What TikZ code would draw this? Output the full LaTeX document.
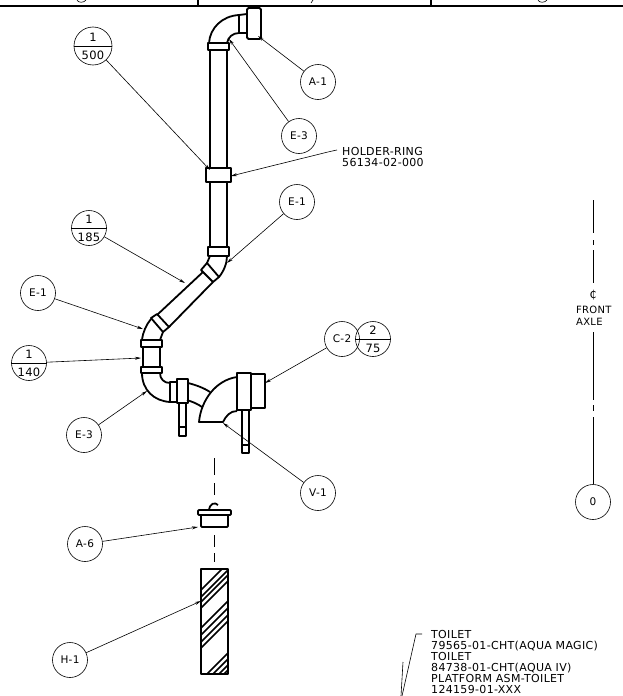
\documentclass[tikz,border=0pt]{standalone}
\usepackage{fontspec}
\newfontfamily\cadfont[LetterSpace=3]{DejaVu Sans}
\usetikzlibrary{arrows.meta}
\tikzset{
	ball/.style={circle, draw, line width=0.6pt, minimum size=35pt, inner sep=0pt, font=\cadfont\fontsize{10.5}{15}\selectfont, align=center},
	fracball/.style={ball, font=\cadfont\fontsize{11.5}{15}\selectfont},
	pipe/.style={line width=1.8pt, line join=round},
	leader/.style={line width=0.6pt, -{Stealth[length=6pt,width=3pt]}},
	note/.style={font=\cadfont\fontsize{11}{11}\selectfont, align=left, inner sep=0pt, anchor=west},
	center line/.style={line width=0.7pt},
}
\begin{document}
\begin{tikzpicture}[x=1pt, y=-1pt]
	\useasboundingbox (0,0) rectangle (623,696);
	% the title strip
	\draw[line width=1.8pt] (0,6) -- (623,6);
	\draw[line width=1.2pt] (198,0) -- (198,6) (431,0) -- (431,6);
	\draw[line width=0.6pt] (77,0) .. controls (78,3) and (84,3) .. (86,0);
	\draw[line width=0.6pt] (538,0) .. controls (539,3) and (545,3) .. (547,0);
	\draw[line width=0.6pt] (313,0) -- (311,3);
	% the upper pipe
	\draw[pipe, rounded corners=1.5pt] (247,8) rectangle (261,39);
	\draw[pipe] (247,14) -- (239,15) -- (239,33) -- (247,33);
	\draw[pipe] (239,15) .. controls (222,16) and (210,28) .. (209,43);
	\draw[pipe] (239,33) .. controls (233,33) and (228,37) .. (227,43);
	\draw[pipe] (208,43) rectangle (229,50);
	\draw[pipe] (210,50) -- (210,168) (227,50) -- (227,168);
	\draw[pipe] (206,168) rectangle (231,182);
	\draw[pipe] (210,182) -- (210,247) (227,182) -- (227,247);
	\draw[pipe] (208,247) rectangle (229,256);
	% the slanted pipe
	\draw[pipe] (210,256) -- (207,263);
	\draw[pipe] (227,256) .. controls (227,263) and (224,271) .. (219,277);
	\draw[pipe] (201,270) -- (207,263) -- (219,277) -- (213,282) -- cycle;
	\draw[pipe] (203,272) -- (157,315) (213,282) -- (169,327);
	\draw[pipe] (151,318) -- (157,314) -- (169,327) -- (163,332) -- cycle;
	\draw[pipe] (151,319) .. controls (146,325) and (143,332) .. (142,340);
	\draw[pipe] (163,332) -- (160,340);
	% the lower pipe
	\draw[pipe] (141,340) rectangle (162,347);
	\draw[pipe] (143,347) -- (143,367) (160,347) -- (160,367);
	\draw[pipe] (141,367) rectangle (162,373);
	\draw[pipe] (142,373) .. controls (142,390) and (154,401) .. (170,402);
	\draw[pipe] (160,373) .. controls (160,379) and (164,383) .. (170,383);
	\draw[pipe] (170,382) rectangle (177,402);
	\draw[pipe] (177,379) rectangle (188,403);
	\draw[pipe] (179,403) -- (179,436) -- (186,436) -- (186,403) (179,427) -- (186,427);
	% the large elbow
	\draw[pipe] (188,383) .. controls (196,385) and (204,388) .. (210,392);
	\draw[pipe] (187,400) .. controls (193,402) and (198,404) .. (202,407);
	\draw[pipe] (237,377) .. controls (216,380) and (201,400) .. (199,422) -- (223,422) .. controls (226,416) and (230,411) .. (237,411);
	\draw[pipe] (237,373) rectangle (251,410);
	\draw[pipe] (251,374) rectangle (265,408);
	\draw[pipe] (242,410) -- (242,453) -- (249,453) -- (249,410) (242,445) -- (249,445);
	% the cap and the hose
	\draw[pipe, rounded corners=1pt] (198,510) rectangle (231,515);
	\draw[pipe, rounded corners=1pt] (201,515) -- (201,527) -- (228,527) -- (228,515);
	\draw[pipe] (209,510) .. controls (210,503) and (215,502) .. (218,505);
	\begin{scope}
		\clip (201,569) rectangle (228,674);
		\foreach \y in {601,608,613,619,639,646,653,659,691,697,703,708}
			\draw[line width=1.5pt] (190,\y) -- (240,\y-50);
	\end{scope}
	\draw[pipe] (201,569) rectangle (228,674);
	% the dashed centre of the cap
	\draw[center line] (214,458) -- (214,475) (214,483) -- (214,495);
	\draw[center line] (214,535) -- (214,547) (214,553) -- (214,562);
	% the callouts
	\node[ball] (a1) at (318,82) {A-1};
	\node[ball] (e3top) at (299,136) {E-3};
	\node[ball] (e1right) at (297,202) {E-1};
	\node[fracball, minimum size=38pt] (f500) at (93,46) {1\\[3pt]500};
	\node[fracball] (f185) at (89,228) {1\\[3pt]185};
	\node[ball] (e1left) at (38,293) {E-1};
	\node[fracball] (f140) at (29,363) {1\\[3pt]140};
	\node[ball] (e3low) at (84,435) {E-3};
	\node[ball] (c2) at (342,339) {C-2};
	\node[fracball] (f75) at (373,339) {2\\[3pt]75};
	\node[ball] (v1) at (318,493) {V-1};
	\node[ball] (a6) at (85,544) {A-6};
	\node[ball] (h1) at (70,660) {H-1};
	\node[ball] (zero) at (593,502) {0};
	\foreach \n in {f500,f185,f140,f75}
		\draw[line width=0.6pt] (\n.west) -- (\n.east);
	% the arrow ends
	\coordinate (tipa1) at (258,36);
	\coordinate (tipe3top) at (229,39);
	\coordinate (tipf500) at (210,170);
	\coordinate (tipholder) at (231,176);
	\coordinate (tipe1right) at (227,263);
	\coordinate (tipf185) at (185,283);
	\coordinate (tipe1left) at (143,329);
	\coordinate (tipf140) at (141,358);
	\coordinate (tipe3low) at (147,391);
	\coordinate (tipc2) at (265,383);
	\coordinate (tipv1) at (223,423);
	\coordinate (tipa6) at (198,527);
	\coordinate (tiph1) at (201,601);
	\draw[leader] (a1) -- (tipa1);
	\draw[leader] (e3top) -- (tipe3top);
	\draw[leader] (f500) -- (tipf500);
	\draw[leader] (e1right) -- (tipe1right);
	\draw[leader] (f185) -- (tipf185);
	\draw[leader] (e1left) -- (tipe1left);
	\draw[leader] (f140) -- (tipf140);
	\draw[leader] (e3low) -- (tipe3low);
	\draw[leader] (c2) -- (tipc2);
	\draw[leader] (v1) -- (tipv1);
	\draw[leader] (a6) -- (tipa6);
	\draw[leader] (h1) -- (tiph1);
	% the notes
	\node[note] (holder) at (342,156.5) {HOLDER-RING\\56134-02-000};
	\coordinate (bend) at (330,151.5);
	\draw[leader] ([xshift=-5pt]holder.west |- 0,150) -- (bend) -- (tipholder);
	\node[note] (toilet) at (431,661.5) {TOILET\\79565-01-CHT(AQUA MAGIC)\\TOILET\\84738-01-CHT(AQUA IV)\\PLATFORM ASM-TOILET\\124159-01-XXX};
	\coordinate (noteknee) at (416,634);
	\coordinate (notefoot) at (402,696);
	\coordinate (notepost) at (403,662);
	\coordinate (notepostfoot) at (401,696);
	\draw[line width=0.6pt] ([xshift=-9pt]toilet.west |- noteknee) -- (noteknee) -- (notefoot);
	\draw[line width=0.6pt] (notepost) -- (notepostfoot);
	% the axle
	\node[font=\cadfont\fontsize{11}{11}\selectfont, inner sep=0pt] (cl) at (593,295) {₵};
	\node[note, font=\cadfont\fontsize{10}{12}\selectfont] (axle) at (576,316) {FRONT\\AXLE};
	\coordinate (axletop) at (593,200);
	\draw[center line] (axletop) -- (593,233) (593,240) -- (593,245) (593,250) -- (593,283);
	\draw[center line] (593,332) -- (593,400) (593,405) -- (593,411) (593,417) -- (zero.north);
\end{tikzpicture}
\end{document}
